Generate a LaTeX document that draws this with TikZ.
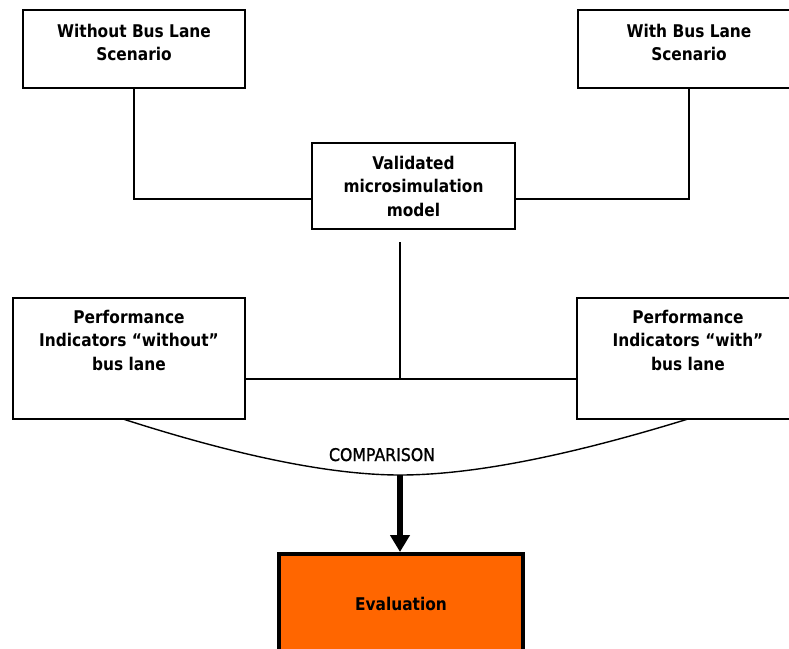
\documentclass[tikz,border=0pt]{standalone}
\usepackage{fontspec}
\setmainfont{DejaVu Sans}[FakeStretch=0.88]
\newfontfamily\plainfont{DejaVu Sans}[FakeStretch=0.9,FakeBold=1.2]
\usetikzlibrary{arrows.meta}
\definecolor{evalorange}{HTML}{FF6600}
% box body: width, height, first baseline depth, text
\newcommand\bxtext[4]{\parbox[c][#2][t]{#1}{\centering\rule{0pt}{#3}#4}}
\begin{document}
\begin{tikzpicture}[x=1pt,y=-1pt,
  box/.style={draw, line width=1.6pt, inner sep=0pt, fill=white},
  wire/.style={line width=1.4pt},
  every node/.style={font=\fontsize{17.5}{23.5}\selectfont\bfseries}]
\useasboundingbox (0,0) rectangle (789,648);
\clip (0,0) rectangle (789,648);

% comparison curve between the two indicator boxes
\coordinate (cmpL) at (123,419);
\coordinate (cmpB) at (400,475);
\coordinate (cmpR) at (688,419);
\draw[wire] (cmpL) .. controls (238,456) and (331,475) .. (cmpB)
                   .. controls (472,475) and (568,456) .. (cmpR);

% scenarios and model
\node[box] (nobus) at (134,49) {\bxtext{222pt}{78pt}{27pt}{Without Bus Lane\\Scenario}};
\node[box] (bus) at (689,49) {\bxtext{222pt}{78pt}{27pt}{With Bus Lane\\Scenario}};
\node[box] (model) at (413.5,186) {\bxtext{203pt}{86pt}{26pt}{Validated\\microsimulation\\model}};

% performance indicators
\node[box] (pinobus) at (129,358.5) {\bxtext{232pt}{121pt}{25pt}{Performance\\Indicators “without”\\bus lane}};
\node[box] (pibus) at (688,358.5) {\bxtext{222pt}{121pt}{25pt}{Performance\\Indicators “with”\\bus lane}};

% evaluation
\node[box, line width=4pt, fill=evalorange] (eval) at (401,609) {\bxtext{244pt}{110pt}{56pt}{Evaluation}};

% connectors
\draw[wire] (nobus.south) |- ([yshift=-13pt]model.west);
\draw[wire] (bus.south) |- ([yshift=-13pt]model.east);
\coordinate (tieL) at ([yshift=-20.5pt]pinobus.east);
\coordinate (tieR) at ([yshift=-20.5pt]pibus.west);
\draw[wire] (tieL) -- (tieR);
\coordinate (feed) at (400,242);
\draw[wire] (feed) -- (feed |- tieL);

\node[font=\fontsize{17.5}{20}\selectfont\plainfont, anchor=base] (cmp) at (382,461) {COMPARISON};

\draw[line width=6pt, -{Triangle[width=19pt,length=17pt]}] (cmpB) -- (cmpB |- eval.north);
\end{tikzpicture}
\end{document}
